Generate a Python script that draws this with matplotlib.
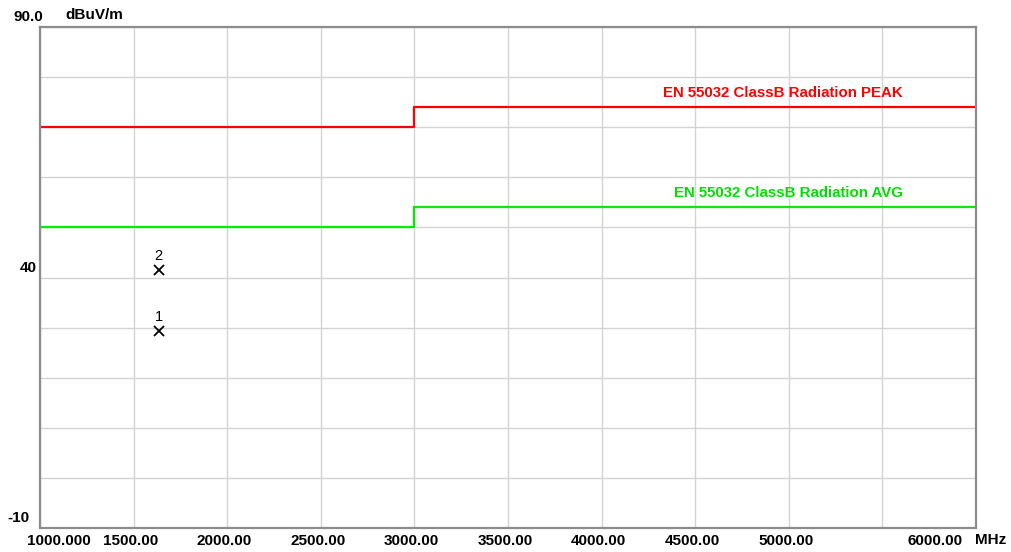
import matplotlib
matplotlib.use("Agg")
import matplotlib.pyplot as plt
import matplotlib.transforms as mtransforms

plt.rcParams['font.family'] = ['Liberation Sans', 'DejaVu Sans']

# limit lines (step, MHz / dBuV/m)
limit_freq = [1000, 3000, 6000]
peak_limit = [70, 74, 74]
avg_limit = [50, 54, 54]
peak_name = "EN 55032 ClassB Radiation PEAK"
avg_name = "EN 55032 ClassB Radiation AVG"

# measured markers
marker_freq = [1634, 1634]
marker_level = [29.3, 41.5]
marker_id = ["1", "2"]

# axes ticks
x_grid = [1000, 1500, 2000, 2500, 3000, 3500, 4000, 4500, 5000, 5500, 6000]
x_labels = ["1000.000", "1500.00", "2000.00", "2500.00", "3000.00", "3500.00",
            "4000.00", "4500.00", "5000.00", "", "6000.00"]
y_grid = [-10, 0, 10, 20, 30, 40, 50, 60, 70, 80, 90]
y_label_vals = [90, 40, -10]
y_labels = ["90.0", "40", "-10"]

fig = plt.figure(figsize=(10.11, 5.52), dpi=100)
ax = fig.add_axes([40 / 1011, 24 / 552, 936 / 1011, 501 / 552])
ax.set_xlim(1000, 6000)
ax.set_ylim(-10, 90)

ax.set_xticks(x_grid)
ax.set_yticks(y_grid)
ax.grid(True, color='#d4d4d4', lw=1.0)
ax.tick_params(length=0, labelleft=False, labelbottom=False)
for sp in ax.spines.values():
    sp.set_color('#8c8c8c')
    sp.set_linewidth(1.6)

ax.plot(limit_freq, peak_limit, drawstyle='steps-post', color='#ff0000', lw=1.6)
ax.plot(limit_freq, avg_limit, drawstyle='steps-post', color='#00ee00', lw=1.6)
ax.text(5610, peak_limit[-1] + 1.4, peak_name, color='#ff0000', ha='right', va='bottom',
        fontsize=10.8, fontweight='bold')
ax.text(5610, avg_limit[-1] + 1.4, avg_name, color='#00e000', ha='right', va='bottom',
        fontsize=10.8, fontweight='bold')

ax.plot(marker_freq, marker_level, 'x', color='black', ms=7, mew=1.3)
for f, v, s in zip(marker_freq, marker_level, marker_id):
    ax.annotate(s, (f, v), xytext=(0, 5), textcoords='offset points', ha='center',
                va='bottom', fontsize=10.5)

# x tick labels
trans_x = mtransforms.blended_transform_factory(ax.transData, ax.transAxes)
x_shift = {0: 19, len(x_grid) - 1: -41}
for i, (f, s) in enumerate(zip(x_grid, x_labels)):
    dx = x_shift.get(i, -3)
    off = mtransforms.ScaledTranslation(dx / 100, -13 / 100, fig.dpi_scale_trans)
    ax.text(f, 0, s, transform=trans_x + off, ha='center', va='center',
            fontsize=11, fontweight='bold', clip_on=False)
ax.text(991 / 1011, 1 - 540 / 552, "MHz", transform=fig.transFigure, ha='center',
        va='center', fontsize=11, fontweight='bold')

# y tick labels
trans_y = mtransforms.blended_transform_factory(fig.transFigure, ax.transData)
y_left = {90: 13, 40: 20, -10: 7}
for v, s in zip(y_label_vals, y_labels):
    off = mtransforms.ScaledTranslation(0, 3 / 100, fig.dpi_scale_trans)
    ax.text(y_left[v] / 1011, v, s, transform=trans_y + off, ha='left', va='bottom',
            fontsize=11, fontweight='bold', clip_on=False)
ax.text(65 / 1011, 1 - 15 / 552, "dBuV/m", transform=fig.transFigure, ha='left',
        va='center', fontsize=11, fontweight='bold')

fig.savefig("out.png", dpi=100)
